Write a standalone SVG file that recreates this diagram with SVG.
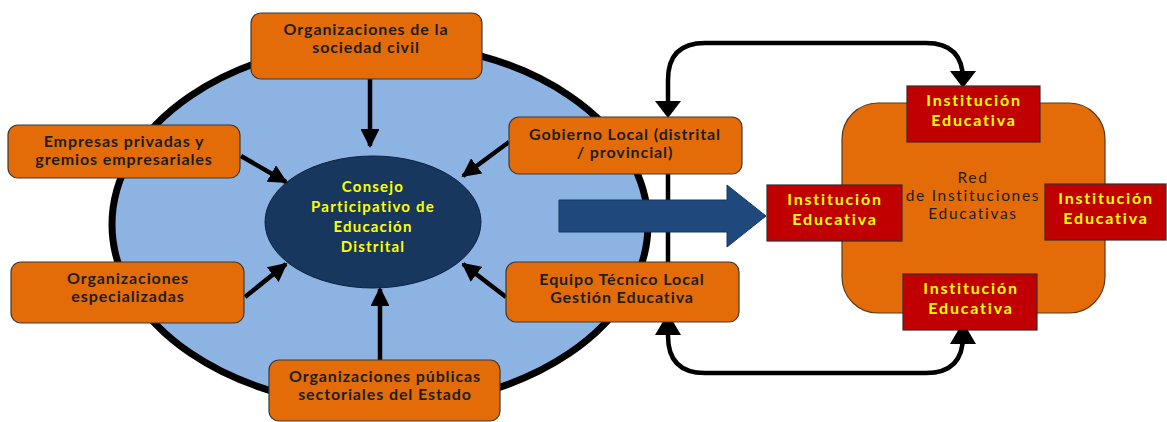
<svg xmlns="http://www.w3.org/2000/svg" width="1167" height="422" viewBox="0 0 1167 422">
<style>
.ob{fill:#e36c09;stroke:#3a3a3a;stroke-width:1.2}
.rb{fill:#c00000;stroke:#3a2a2a;stroke-width:1.2}
.t{font-family:Lato,"Liberation Sans",sans-serif;font-weight:bold;font-size:16px;letter-spacing:0.9px;fill:#1e1e1e;text-anchor:middle}
.y{font-family:Lato,"Liberation Sans",sans-serif;font-weight:bold;font-size:16px;letter-spacing:1.8px;fill:#ffff00;text-anchor:middle}
.yc{font-family:Lato,"Liberation Sans",sans-serif;font-weight:bold;font-size:15px;letter-spacing:1.2px;fill:#ffff00;text-anchor:middle}
.c{font-family:Lato,"Liberation Sans",sans-serif;font-size:15.5px;letter-spacing:1.7px;fill:#1e1e1e;text-anchor:middle}
.ln{stroke:#000;stroke-width:4.5;fill:none}
</style>
<defs>
<marker id="ah" viewBox="0 0 10 10" refX="9" refY="5" markerWidth="4.2" markerHeight="4.2" markerUnits="strokeWidth" orient="auto"><path d="M0,0 L10,5 L0,10 z" fill="#000"/></marker>
</defs>
<g id="ring">
<ellipse cx="380" cy="224.5" rx="268" ry="182" fill="#8db3e2" stroke="#000" stroke-width="7"/>
</g>
<g id="consejo">
<ellipse cx="373" cy="222" rx="108" ry="66" fill="#17375e" stroke="#0e2340" stroke-width="1"/>
<text class="yc" x="373" y="192">Consejo</text>
<text class="yc" x="373" y="212">Participativo de</text>
<text class="yc" x="373" y="232">Educación</text>
<text class="yc" x="373" y="252">Distrital</text>
</g>
<g id="connectors">
<line class="ln" x1="370" y1="79" x2="370" y2="146" marker-end="url(#ah)"/>
<line class="ln" x1="241" y1="156" x2="286" y2="182" marker-end="url(#ah)"/>
<line class="ln" x1="509" y1="142" x2="463" y2="176" marker-end="url(#ah)"/>
<line class="ln" x1="245" y1="297" x2="286" y2="264" marker-end="url(#ah)"/>
<line class="ln" x1="506" y1="297" x2="463" y2="264" marker-end="url(#ah)"/>
<line class="ln" x1="380" y1="360" x2="380" y2="289" marker-end="url(#ah)"/>
<line class="ln" x1="668" y1="174" x2="668" y2="262"/>
<path class="ln" d="M668,103 L668,80 Q668,43 705,43 L926,43 Q963,43 963,80 L963,72"/>
<path d="M655,101 L681,101 L668,118 z" fill="#000"/>
<path d="M950,71 L976,71 L963,88 z" fill="#000"/>
<path class="ln" d="M668,333 L668,336 Q668,373 705,373 L926,373 Q963,373 963,336 L963,343"/>
<path d="M655,335 L681,335 L668,313 z" fill="#000"/>
<path d="M950,344 L976,344 L963,322 z" fill="#000"/>
</g>
<g id="flecha">
<path d="M559,200 L727,200 L727,185 L766,216 L727,247 L727,232 L559,232 z" fill="#1f497d" stroke="#17375e" stroke-width="1"/>
</g>
<g id="n1"><rect class="ob" x="251" y="13" width="231" height="66" rx="10"/>
<text class="t" x="366" y="35">Organizaciones de la</text><text class="t" x="366" y="53">sociedad civil</text></g>
<g id="n2"><rect class="ob" x="8" y="125" width="232" height="53" rx="10"/>
<text class="t" x="124" y="147">Empresas privadas y</text><text class="t" x="124" y="165">gremios empresariales</text></g>
<g id="n3"><rect class="ob" x="509" y="117" width="233" height="57" rx="10"/>
<text class="t" x="625" y="140">Gobierno Local (distrital</text><text class="t" x="625" y="158">/ provincial)</text></g>
<g id="n4"><rect class="ob" x="11" y="262" width="233" height="61" rx="10"/>
<text class="t" x="128" y="284">Organizaciones</text><text class="t" x="128" y="302">especializadas</text></g>
<g id="n5"><rect class="ob" x="506" y="262" width="233" height="60" rx="10"/>
<text class="t" x="622" y="285">Equipo Técnico Local</text><text class="t" x="622" y="303">Gestión Educativa</text></g>
<g id="n6"><rect class="ob" x="269" y="360" width="231" height="61" rx="10"/>
<text class="t" x="385" y="382">Organizaciones públicas</text><text class="t" x="385" y="400">sectoriales del Estado</text></g>
<g id="red"><rect x="842" y="103" width="263" height="210" rx="36" fill="#e36c09" stroke="#5a3a1a" stroke-width="1.2"/>
<text class="c" x="973" y="183">Red</text><text class="c" x="973" y="201">de Instituciones</text><text class="c" x="973" y="219">Educativas</text></g>
<g id="ie1"><rect class="rb" x="907" y="86" width="133" height="56"/>
<text class="y" x="974" y="106">Institución</text><text class="y" x="974" y="126">Educativa</text></g>
<g id="ie2"><rect class="rb" x="767" y="185" width="135" height="56"/>
<text class="y" x="835" y="205">Institución</text><text class="y" x="835" y="225">Educativa</text></g>
<g id="ie3"><rect class="rb" x="1045" y="184" width="121" height="56"/>
<text class="y" x="1106" y="204">Institución</text><text class="y" x="1106" y="224">Educativa</text></g>
<g id="ie4"><rect class="rb" x="903" y="274" width="134" height="56"/>
<text class="y" x="971" y="294">Institución</text><text class="y" x="971" y="314">Educativa</text></g>
</svg>
